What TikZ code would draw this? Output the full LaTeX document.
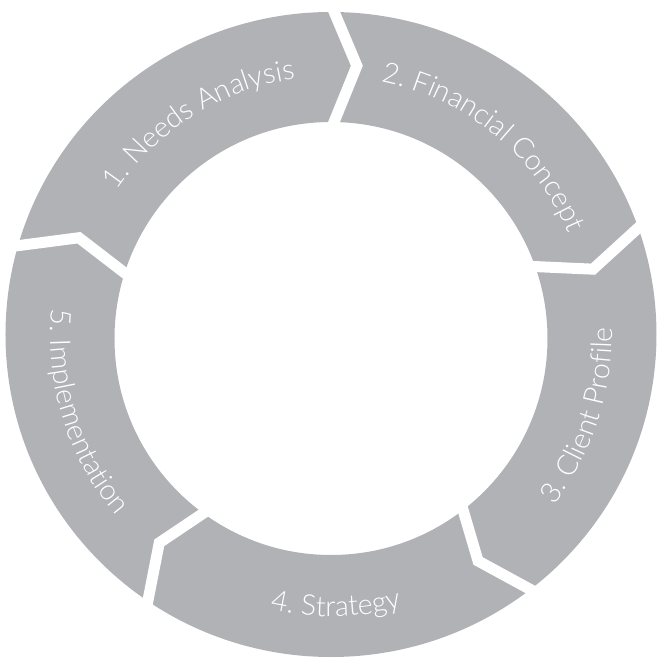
\documentclass[tikz,border=0pt]{standalone}
\usepackage{fontspec}
\setmainfont{Lato}[UprightFont=* Light]
\usetikzlibrary{calc,decorations.text}
\definecolor{ringgray}{RGB}{177,178,182}
\newcommand{\seglabelfont}{\fontsize{28.5}{31}\selectfont}
\begin{document}
\begin{tikzpicture}[x=1pt,y=1pt,
  gap/.style={draw=white,line width=11pt,line join=miter,miter limit=10},
  ringlabel/.style={decorate,decoration={text along path,text align=center,text color=white}}]
\useasboundingbox (-331,-327.5) rectangle (328,334.5);
% ring
\fill[ringgray,even odd rule] (0,0) ellipse[x radius=325.5,y radius=322.5]
  (0,-4) circle[radius=216.5];
% chevron gaps between the five stages
\foreach \a [count=\i] in {90,19.5,-51.5,-124,164.5}{
  \coordinate (o\i) at (\a:330);
  \coordinate (t\i) at (\a-5.5:270);
  \coordinate (n\i) at (\a:205);
  \draw[gap] ($(t\i)!1.3!(o\i)$) -- (t\i) -- ($(t\i)!1.3!(n\i)$);
}
% labels
\path[ringlabel,decoration={text={|\seglabelfont|1. Needs Analysis}}]
  (165:258) arc[start angle=165,end angle=79,radius=258];
\path[ringlabel,decoration={text={|\seglabelfont|2. Financial Concept}}]
  (95:258) arc[start angle=95,end angle=7,radius=258];
\path[ringlabel,decoration={text={|\seglabelfont|3. Client Profile}}]
  (-60:281) arc[start angle=-60,end angle=24,radius=281];
\path[ringlabel,decoration={text={|\seglabelfont|4. Strategy}}]
  (-130:282) arc[start angle=-130,end angle=-48,radius=282];
\path[ringlabel,decoration={text={|\seglabelfont|5. Implementation}}]
  (150:281) arc[start angle=150,end angle=245,radius=281];
\end{tikzpicture}
\end{document}
